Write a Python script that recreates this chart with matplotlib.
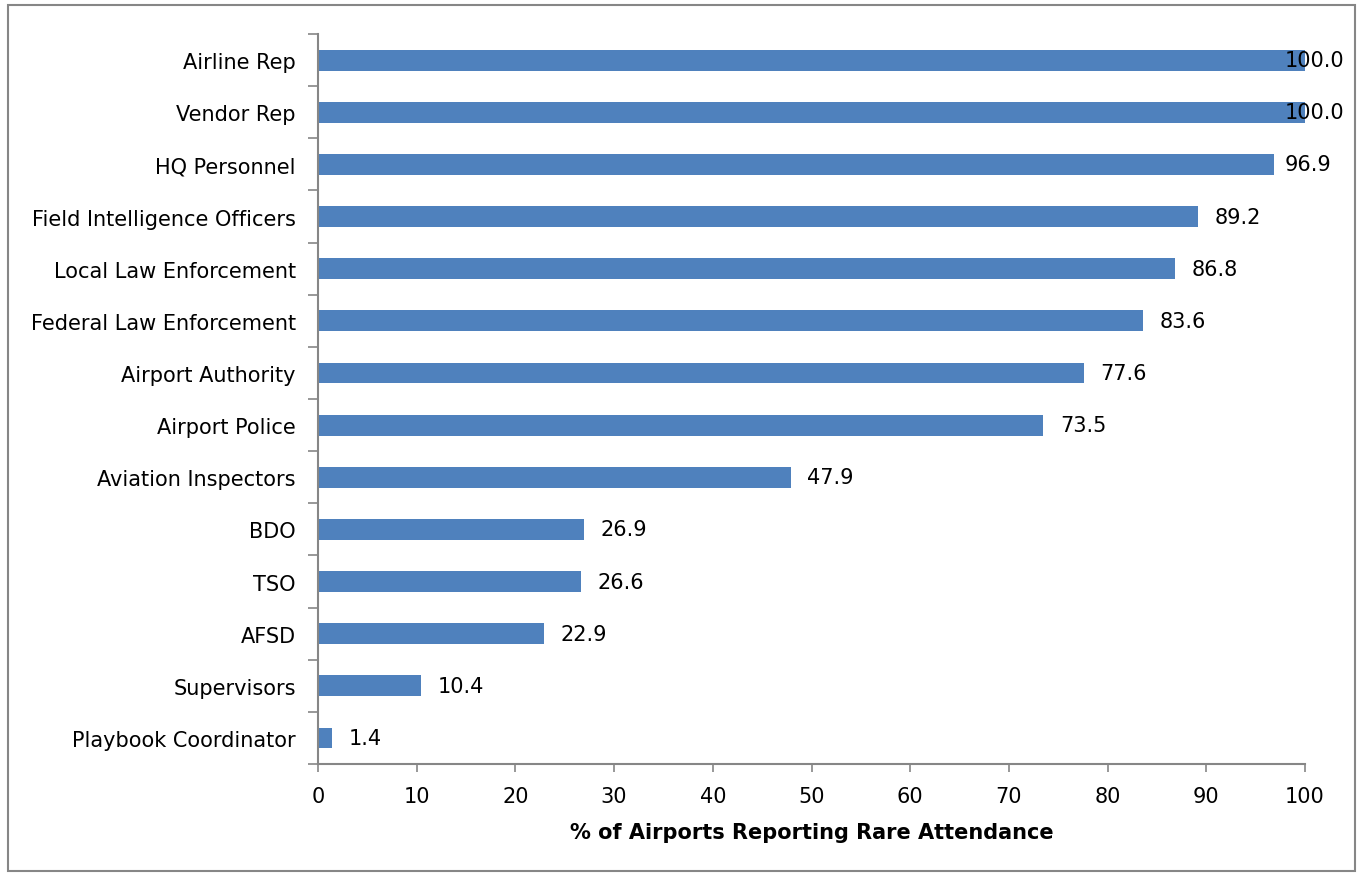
import numpy as np
import matplotlib.pyplot as plt
from matplotlib.patches import Rectangle

categories = ["Airline Rep", "Vendor Rep", "HQ Personnel", "Field Intelligence Officers",
              "Local Law Enforcement", "Federal Law Enforcement", "Airport Authority",
              "Airport Police", "Aviation Inspectors", "BDO", "TSO", "AFSD",
              "Supervisors", "Playbook Coordinator"]
values = [100.0, 100.0, 96.9, 89.2, 86.8, 83.6, 77.6, 73.5, 47.9, 26.9, 26.6, 22.9, 10.4, 1.4]
xticks = [0, 10, 20, 30, 40, 50, 60, 70, 80, 90, 100]

plt.rcParams['font.family'] = ['DejaVu Sans']
grey = '#868686'

fig = plt.figure(figsize=(13.59, 8.78), dpi=100)
ax = fig.add_axes([0.234, 0.1287, 0.9603 - 0.234, 0.9601 - 0.1287])

y = np.arange(len(categories))[::-1]
ax.barh(y, values, height=0.4, color='#4F81BD')

# labels near the right edge get pushed back inside, like excel does
for yi, v in zip(y, values):
    ax.annotate(f"{v:.1f}", (min(v, 96.2), yi), xytext=(12, 0), textcoords='offset points',
                va='center', ha='left', fontsize=15)

ax.set_xlim(0, 100)
ax.set_ylim(-0.5, len(categories) - 0.5)
ax.set_xticks(xticks)
ax.set_xticklabels([str(t) for t in xticks], fontsize=15)
ax.set_yticks(y)
ax.set_yticklabels(categories, fontsize=15)
ax.tick_params(axis='y', which='major', length=0, pad=16)
ax.set_yticks(np.arange(-0.5, len(categories), 1), minor=True)
ax.tick_params(axis='y', which='minor', length=7, color=grey, width=1.2)
ax.tick_params(axis='x', length=6, color=grey, width=1.2, pad=10)
for s in ['top', 'right']:
    ax.spines[s].set_visible(False)
for s in ['left', 'bottom']:
    ax.spines[s].set_color(grey)
    ax.spines[s].set_linewidth(1.5)
ax.set_xlabel("% of Airports Reporting Rare Attendance", fontsize=15, fontweight='bold', labelpad=11)

fig.patches.append(Rectangle((8 / 1359, 6 / 878), 1347 / 1359, 866 / 878, transform=fig.transFigure,
                             fill=False, edgecolor=grey, linewidth=1.5))

fig.savefig("out.png", dpi=100)
